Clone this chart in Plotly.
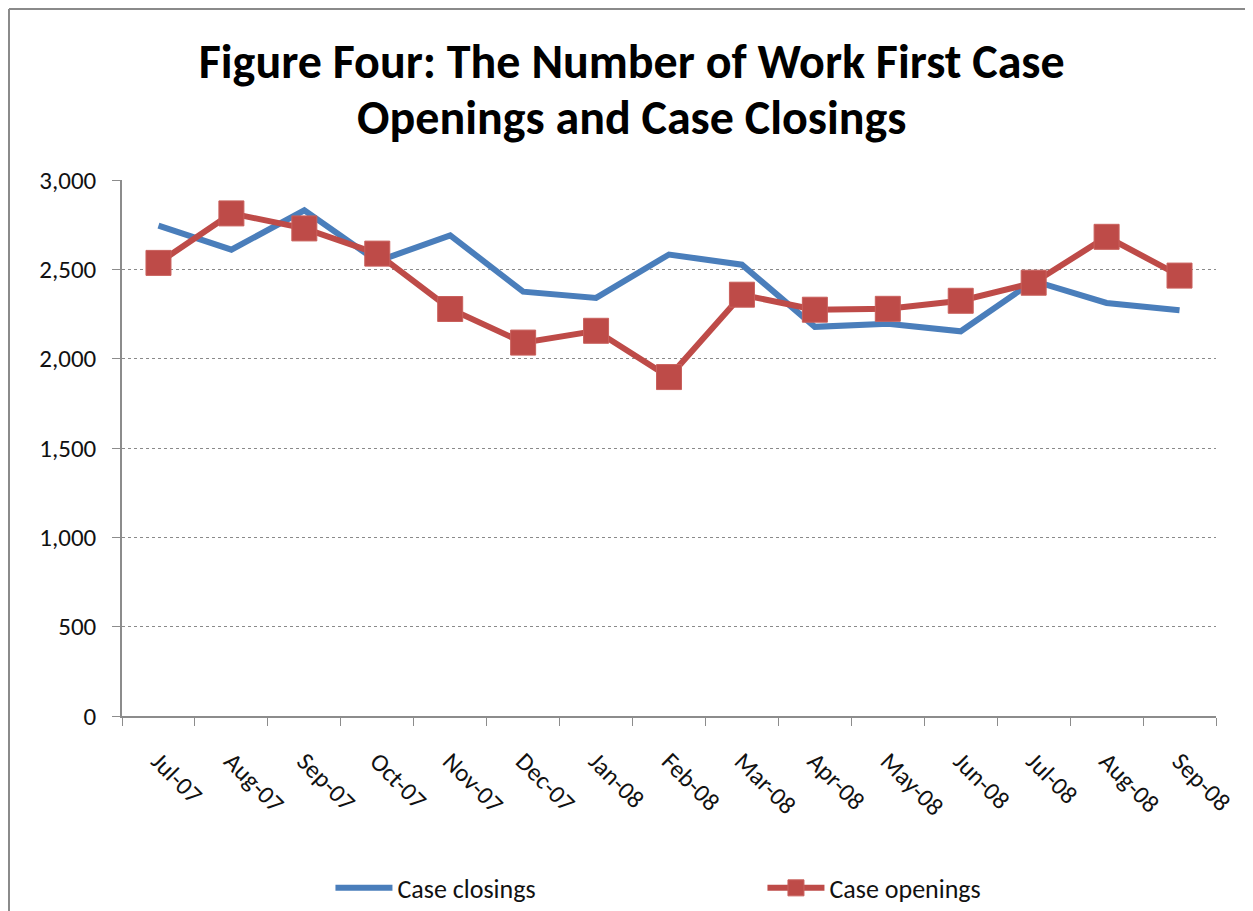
import plotly.graph_objects as go

months = ["Jul-07", "Aug-07", "Sep-07", "Oct-07", "Nov-07", "Dec-07", "Jan-08", "Feb-08",
          "Mar-08", "Apr-08", "May-08", "Jun-08", "Jul-08", "Aug-08", "Sep-08"]
case_closings = [2745, 2610, 2830, 2545, 2690, 2375, 2340, 2583, 2526, 2178, 2195, 2153, 2435, 2312, 2271]
case_openings = [2536, 2813, 2729, 2588, 2278, 2090, 2156, 1897, 2358, 2274, 2279, 2324, 2425, 2682, 2465]
y_ticks = [0, 500, 1000, 1500, 2000, 2500, 3000]
y_tick_labels = ["0", "500", "1,000", "1,500", "2,000", "2,500", "3,000"]
title_line1 = "Figure Four: The Number of Work First Case"
title_line2 = "Openings and Case Closings"

BLUE = "#4A7EBB"
RED = "#BE4B48"
FONT = "Carlito, Lato, Open Sans, sans-serif"

fig = go.Figure()
fig.add_trace(go.Scatter(
    x=months, y=case_closings, name="Case closings", mode="lines",
    line=dict(color=BLUE, width=6),
))
fig.add_trace(go.Scatter(
    x=months, y=case_openings, name="Case openings", mode="lines+markers",
    line=dict(color=RED, width=6),
    marker=dict(symbol="square", size=25, color=RED, line=dict(color="#C9605C", width=1)),
))

# page body adds an 8px offset; figure is sized to end at the window edge
fig.update_layout(
    width=1245, height=903,
    margin=dict(l=114, r=37, t=172, b=195),
    paper_bgcolor="white", plot_bgcolor="white",
    font=dict(family=FONT, color="#222"),
    title=dict(
        text="<b>" + title_line1 + "</b>",
        x=0.501, xanchor="center", y=0.9413, yanchor="middle",
        font=dict(family=FONT, size=48, color="black"),
    ),
    showlegend=True,
    legend=dict(
        orientation="h", xref="container", yref="container",
        x=0.259, xanchor="left", y=0.0255, yanchor="middle",
        font=dict(size=26, color="#111", family=FONT), entrywidth=360, itemwidth=57,
        bgcolor="rgba(0,0,0,0)",
    ),
    xaxis=dict(
        type="category", range=[-0.5, 14.5],
        showgrid=False, showline=True, linecolor="#8c8c8c", linewidth=1.5,
        ticks="outside", tickson="boundaries", ticklen=8, tickcolor="#8c8c8c",
        tickangle=45, ticklabelstandoff=19,
        tickfont=dict(size=25, color="#111", family=FONT),
    ),
    yaxis=dict(
        range=[0, 3000], tickvals=y_ticks, ticktext=y_tick_labels,
        showgrid=True, gridcolor="#8a8a8a", griddash="dot", gridwidth=1,
        showline=True, linecolor="#8c8c8c", linewidth=1.5,
        ticks="outside", ticklen=8, tickcolor="#8c8c8c", ticklabelstandoff=11,
        tickfont=dict(size=25, color="#111", family=FONT),
        zeroline=False,
    ),
)

fig.add_annotation(
    text="<b>" + title_line2 + "</b>", xref="paper", yref="paper",
    x=0.466, y=1.1157, xanchor="center", yanchor="middle", showarrow=False,
    font=dict(family=FONT, size=48, color="black"),
)

# outer chart border (left and top visible edges)
fig.add_shape(type="line", xref="paper", yref="paper", x0=-0.1033, x1=-0.1033, y0=-0.5, y1=1.319,
              line=dict(color="#8a8a8a", width=2))
fig.add_shape(type="line", xref="paper", yref="paper", x0=-0.1033, x1=1.2, y0=1.319, y1=1.319,
              line=dict(color="#8a8a8a", width=2))

fig.write_html("out.html")
